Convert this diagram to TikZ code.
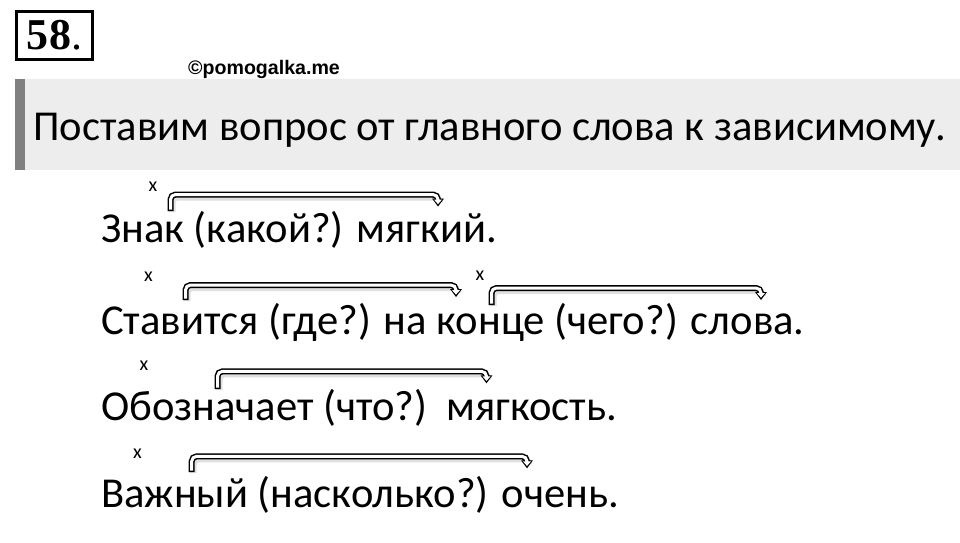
\documentclass[tikz,border=0pt]{standalone}
\usepackage{fontspec}
\setmainfont{Carlito}
\newfontfamily\numfont{Liberation Serif}
\newfontfamily\wmfont{Liberation Sans}
\definecolor{bannergrey}{HTML}{EDEDED}
\definecolor{bargrey}{HTML}{808080}
\tikzset{
  bandout/.style={line width=6pt, black, rounded corners=5pt},
  bandin/.style={line width=3pt, white, rounded corners=5pt},
  bandshadow/.style={line width=7pt, black!12, rounded corners=5pt},
  sentence/.style={anchor=base west, inner sep=0pt, font=\fontsize{42.6}{43}\selectfont},
  xmark/.style={anchor=base, inner sep=0pt, font=\fontsize{20}{20}\selectfont},
}
% #1 left x, #2 band y, #3 bottom y of the rising end, #4 x of the arrow head
\newcommand\deparrow[4]{%
  \draw[bandshadow] (#1+1.5,#3+1) -- (#1+1.5,#2+2.5) -- (#4+1.5,#2+2.5) -- (#4+1.5,#2+8);
  \draw[bandout] (#1,#3) -- (#1,#2) -- (#4,#2) -- (#4,#2+6);
  \fill[black] (#4-6,#2+4) -- (#4+6,#2+4) -- (#4,#2+12) -- cycle;
  \draw[bandin] (#1,#3-1.5) -- (#1,#2) -- (#4,#2) -- (#4,#2+6);
  \fill[white] (#4-4,#2+5.1) -- (#4+4,#2+5.1) -- (#4,#2+9.6) -- cycle;
}
\begin{document}
\begin{tikzpicture}[x=1pt,y=-1pt]
  \useasboundingbox (0,0) rectangle (960,542);
  \fill[white] (0,0) rectangle (960,542);
  % number box
  \node (num) [draw, line width=2.6pt, inner sep=0pt, minimum width=76.5pt, minimum height=48.5pt]
    at (54.5,35.5) {\numfont\fontsize{44}{44}\selectfont\textbf{58}.};
  % watermark
  \node (wm) [anchor=base west, inner sep=0pt] at (188,74)
    {\wmfont\bfseries\fontsize{19.6}{19.6}\selectfont ©pomogalka.me};
  % banner
  \fill[bannergrey] (15,79) rectangle (960,170);
  \fill[bargrey] (15,79) rectangle (25,170);
  \node (task) [sentence] at (33.3,140) {Поставим вопрос от главного слова к зависимому.};
  % sentences
  \node (s1) [sentence] at (101,242) {Знак (какой?) мягкий.};
  \node (s2) [sentence] at (101,334) {Ставится (где?) на конце (чего?) слова.};
  \node (s3) [sentence] at (101,420) {Обозначает (что?)~~мягкость.};
  \node (s4) [sentence] at (101,507) {Важный (насколько?) очень.};
  % x marks
  \node (x1) [xmark] at (153,191.5) {x};
  \node (x2) [xmark] at (148.5,281.5) {x};
  \node (x3) [xmark] at (480,280) {x};
  \node (x4) [xmark] at (144,370) {x};
  \node (x5) [xmark] at (137.5,458) {x};
  % arrows
  \deparrow{170.5}{194.5}{211}{438}
  \deparrow{185.5}{285}{300}{456}
  \deparrow{491.5}{288}{305}{761}
  \deparrow{217.5}{371.3}{389}{486.5}
  \deparrow{191.7}{456.3}{472}{527}
\end{tikzpicture}
\end{document}
